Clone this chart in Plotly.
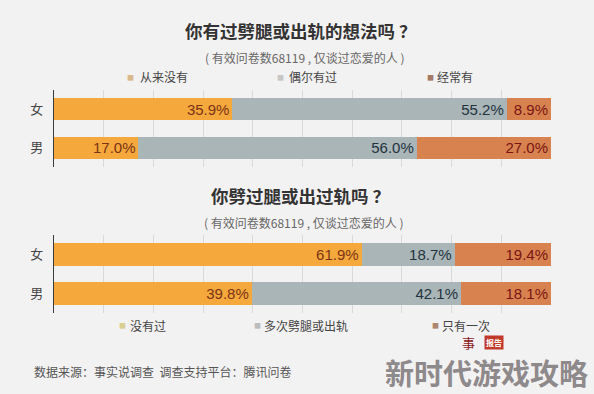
import plotly.graph_objects as go

W, H = 594, 394

# ---------------- data ----------------
genders = ["女", "男"]

q1_title = "你有过劈腿或出轨的想法吗 ？"
q1_sub = "( 有效问卷数68119 , 仅谈过恋爱的人 )"
q1_series = ["从来没有", "偶尔有过", "经常有"]
q1_never = [35.9, 17.0]
q1_sometimes = [55.2, 56.0]
q1_often = [8.9, 27.0]

q2_title = "你劈过腿或出过轨吗 ？"
q2_sub = "( 有效问卷数68119 , 仅谈过恋爱的人 )"
q2_series = ["没有过", "多次劈腿或出轨", "只有一次"]
q2_never = [61.9, 39.8]
q2_many = [18.7, 42.1]
q2_once = [19.4, 18.1]

source_text = "数据来源：事实说调查  调查支持平台：腾讯问卷"
watermark = "新时代游戏攻略"

# ---------------- style ----------------
BG = "#f3f2f2"
BAR_COLORS = ["#f5a83c", "#a9b5b6", "#d8834f"]
TXT_COLORS = ["#7a3416", "#1f3341", "#7a1414"]
LEG_SQ = [["#d9b98a", "#c6c6c6", "#a57a68"], ["#d9cf90", "#bdbdbd", "#ad8770"]]
CJK = "Noto Sans CJK SC"
NUM = "Liberation Sans"


def px_x(x):
    return x / W


def px_y(y):
    return 1 - y / H


fig = go.Figure()

groups = [
    ("x", "y", [q1_never, q1_sometimes, q1_often], q1_series),
    ("x2", "y2", [q2_never, q2_many, q2_once], q2_series),
]
for xa, ya, vals, names in groups:
    for i, (v, nm) in enumerate(zip(vals, names)):
        fig.add_trace(go.Bar(
            x=v, y=genders, name=nm, orientation="h",
            xaxis=xa, yaxis=ya,
            marker=dict(color=BAR_COLORS[i], line=dict(width=0)),
            width=0.58,
            texttemplate="%{x:.1f}%",
            textposition="inside", insidetextanchor="end",
            constraintext="none",
            textfont=dict(family=NUM, size=15, color=TXT_COLORS[i]),
            showlegend=False, hoverinfo="skip",
        ))

xdom = [px_x(54), px_x(551)]
axis_x = dict(range=[0, 100], dtick=10, showticklabels=False, showgrid=True,
              gridcolor="#d9d9d9", gridwidth=1, zeroline=False, showline=False,
              ticks="", fixedrange=True)
axis_y = dict(categoryorder="array", categoryarray=genders, autorange="reversed",
              showline=True, linecolor="#3a3a3a", linewidth=1.3, ticks="",
              ticklabelstandoff=7, showgrid=False, zeroline=False,
              tickfont=dict(family=CJK, size=13, color="#444444"), fixedrange=True)

fig.update_layout(
    width=W, height=H,
    margin=dict(l=0, r=0, t=0, b=0),
    paper_bgcolor=BG, plot_bgcolor=BG,
    barmode="stack", bargap=0.4,
    uniformtext=dict(minsize=15, mode="show"),
    xaxis=dict(domain=xdom, anchor="y", **axis_x),
    yaxis=dict(domain=[px_y(167), px_y(90)], anchor="x", **axis_y),
    xaxis2=dict(domain=xdom, anchor="y2", **axis_x),
    yaxis2=dict(domain=[px_y(313), px_y(235)], anchor="x2", **axis_y),
)

ann = []


def text(x, y, s, size, color, bold=False, xanchor="center", family=CJK, **kw):
    ann.append(dict(x=px_x(x), y=px_y(y), xref="paper", yref="paper", text=(f"<b>{s}</b>" if bold else s),
                    showarrow=False, xanchor=xanchor, yanchor="middle",
                    font=dict(family=family, size=size, color=color), **kw))


# titles
text(300, 30, q1_title, 17.5, "#333333", bold=True)
text(305, 57, q1_sub, 12, "#666666")
text(300, 195, q2_title, 17.5, "#333333", bold=True)
text(304, 222, q2_sub, 12, "#666666")

# legends
leg1 = [(130.5, 138), (280.5, 287), (430.5, 435)]
for i, ((sx, tx), nm) in enumerate(zip(leg1, q1_series)):
    text(sx, 77, "■", 7, LEG_SQ[0][i])
    text(tx, 77, nm, 12, "#444444", xanchor="left")
leg2 = [(122.5, 128), (257.5, 262), (435.5, 440)]
for i, ((sx, tx), nm) in enumerate(zip(leg2, q2_series)):
    text(sx, 325, "■", 7, LEG_SQ[1][i])
    text(tx, 325, nm, 12, "#444444", xanchor="left")

# source
text(32, 371, source_text, 12, "#555555", xanchor="left")

# watermark logo
text(468, 342.5, "事", 13, "#8b1a1a", family="Noto Sans CJK SC")
text(494, 342.5, "<b>报告</b>", 8, "#ffffff", bgcolor="#c0392b", borderpad=1)
text(486, 372, f"<b>{watermark}</b>", 29, "#8e898b",
     family="Noto Sans CJK SC")

fig.update_layout(annotations=ann)
fig.write_html("out.html")
